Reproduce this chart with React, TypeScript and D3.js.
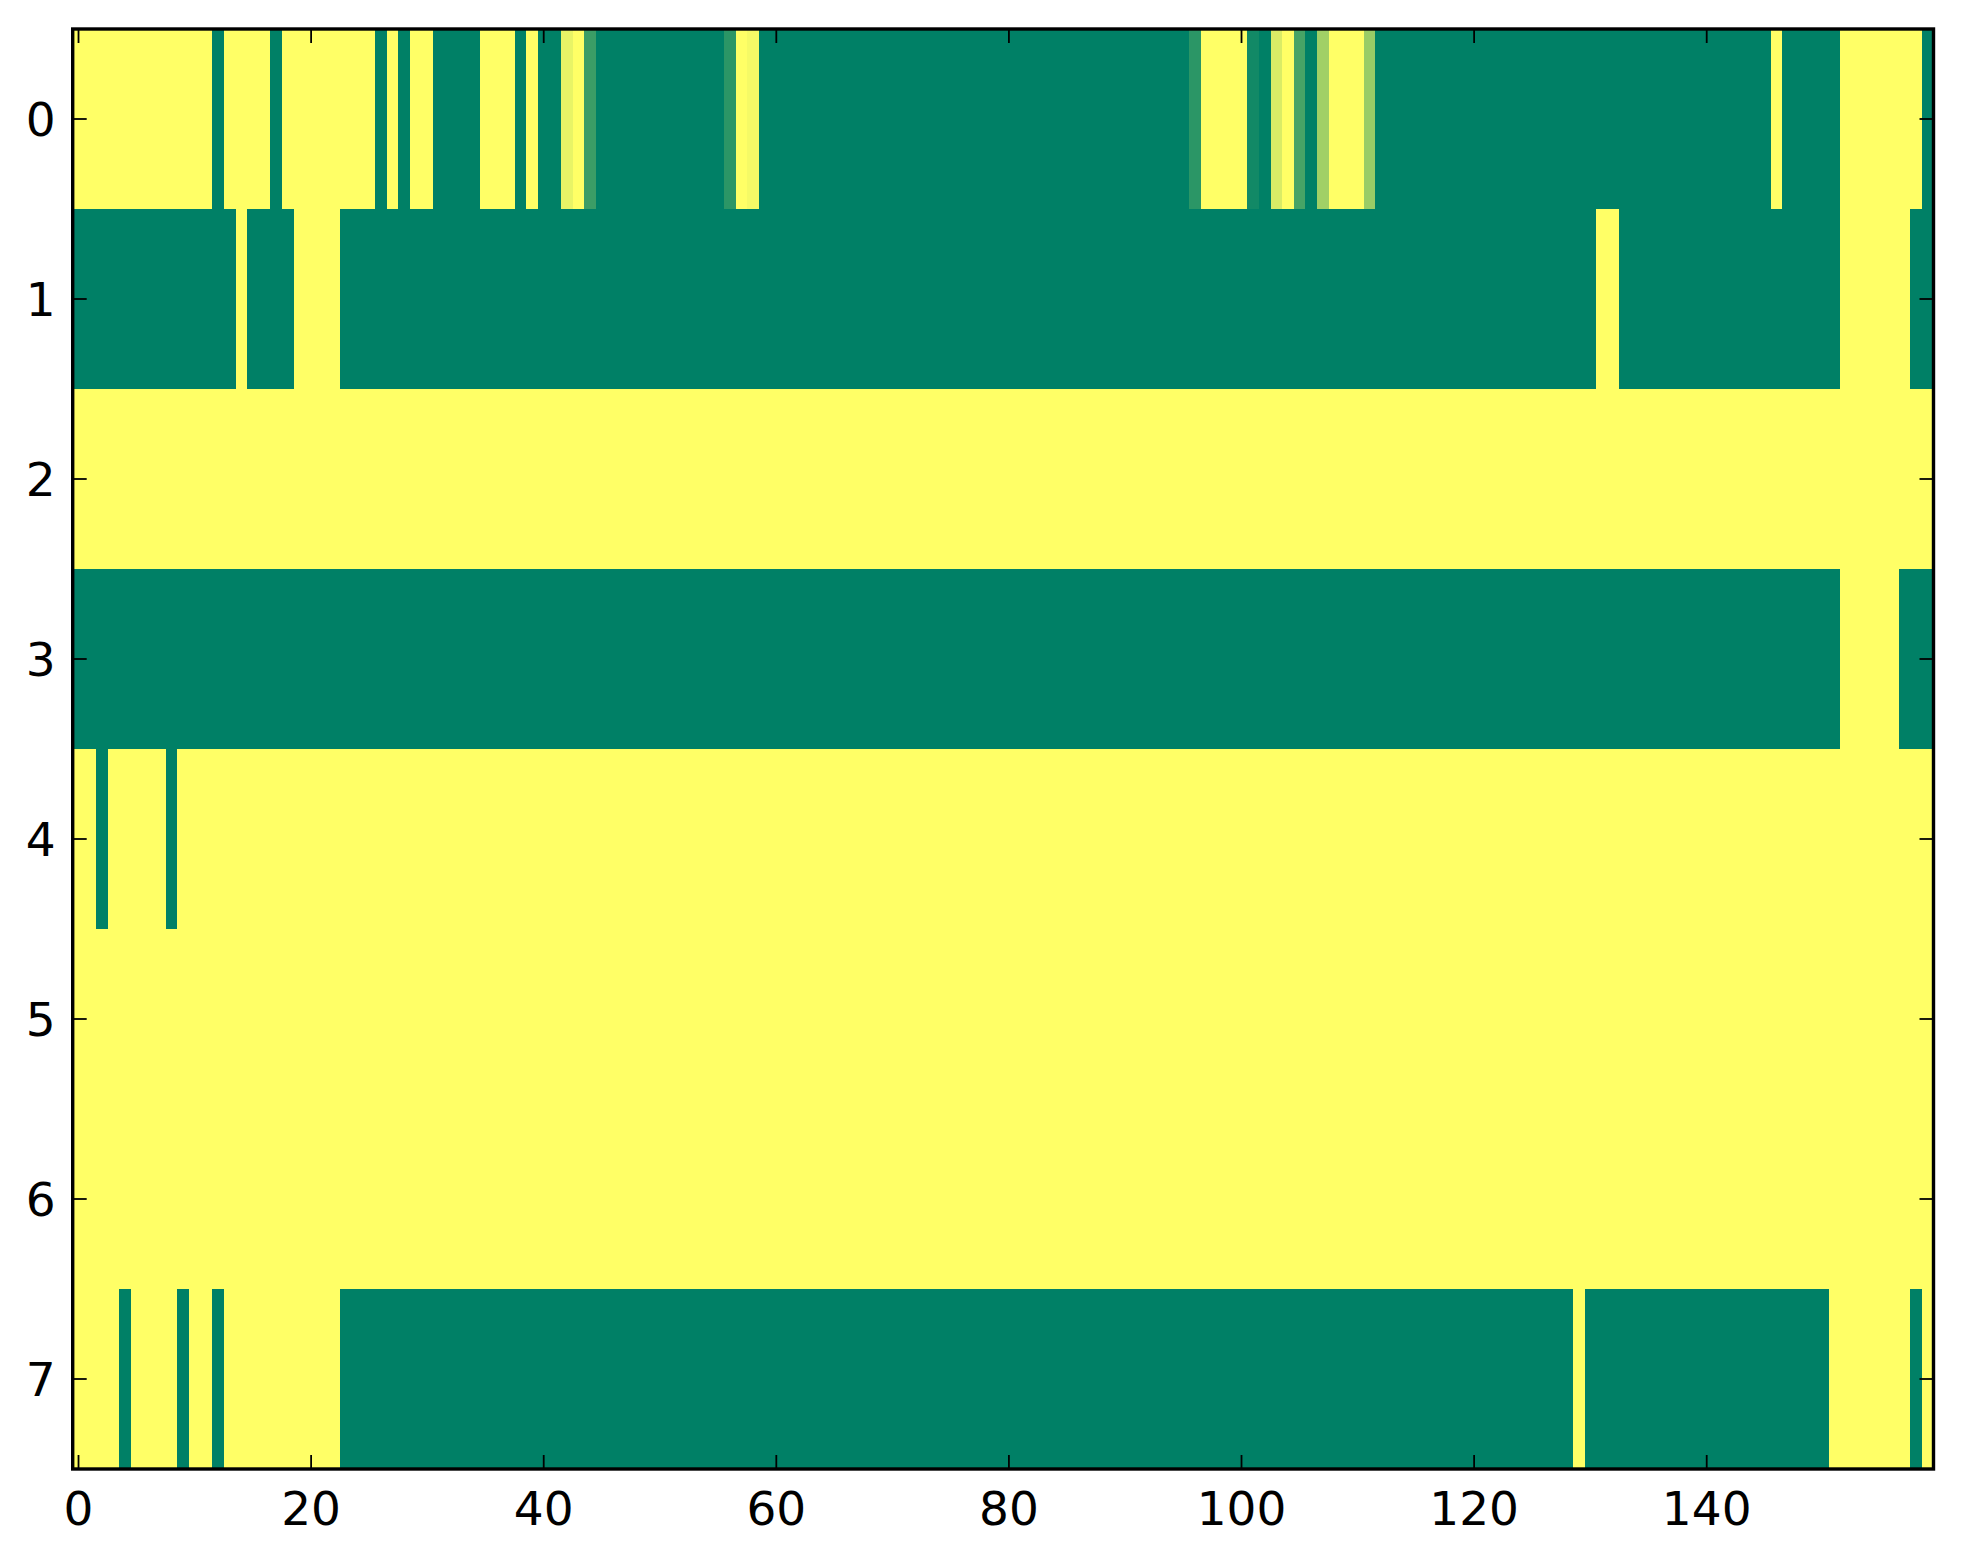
import React, { useEffect } from "react";
import * as d3 from "d3";

// Run-length encoded rows: [value, count] (160 columns each)
const row0Runs: [number, number][] = [
  [1, 12], [0, 1], [1, 4], [0, 1], [1, 8], [0, 1], [1, 1], [0, 1], [1, 2], [0, 4],
  [1, 3], [0, 1], [1, 1], [0, 2], [0.91, 1], [1, 1], [0.23, 1], [0, 11], [0.17, 1], [1, 1],
  [0.96, 1], [0, 37], [0.17, 1], [1, 4], [0.07, 1], [0, 1], [0.85, 1], [1, 1], [0.28, 1], [0, 1],
  [0.63, 1], [1, 3], [0.6, 1], [0, 34], [1, 1], [0, 5], [1, 7], [0, 1],
];
const row1Runs: [number, number][] = [
  [0, 14], [1, 1], [0, 4], [1, 4], [0, 108], [1, 2], [0, 19], [1, 6], [0, 2],
];
const row2Runs: [number, number][] = [[1, 160]];
const row3Runs: [number, number][] = [[0, 152], [1, 5], [0, 3]];
const row4Runs: [number, number][] = [[1, 2], [0, 1], [1, 5], [0, 1], [1, 151]];
const row5Runs: [number, number][] = [[1, 160]];
const row6Runs: [number, number][] = [[1, 160]];
const row7Runs: [number, number][] = [
  [1, 4], [0, 1], [1, 4], [0, 1], [1, 2], [0, 1], [1, 10], [0, 106], [1, 1], [0, 21],
  [1, 7], [0, 1], [1, 1],
];

const rowRuns = [row0Runs, row1Runs, row2Runs, row3Runs, row4Runs, row5Runs, row6Runs, row7Runs];
const xTickValues = [0, 20, 40, 60, 80, 100, 120, 140];
const yTickValues = [0, 1, 2, 3, 4, 5, 6, 7];

const NCOLS = 160;
const NROWS = 8;

function expand(runs: [number, number][]): number[] {
  const out: number[] = [];
  runs.forEach(([v, n]) => {
    for (let i = 0; i < n; i++) out.push(v);
  });
  return out;
}

const matrix = rowRuns.map(expand);

const W = 1963;
const H = 1564;
const left = 72.7;
const right = 1933.5;
const top = 29;
const bottom = 1469;

export default function App() {
  useEffect(() => {
    document.body.style.margin = "0";
  }, []);

  const x = d3.scaleLinear().domain([-0.5, NCOLS - 0.5]).range([left, right]);
  const y = d3.scaleLinear().domain([-0.5, NROWS - 0.5]).range([top, bottom]);
  // matplotlib "summer" colormap
  const color = d3.scaleLinear<string>().domain([0, 1]).range(["#008066", "#ffff66"]).interpolate(d3.interpolateRgb);

  const cells: JSX.Element[] = [];
  matrix.forEach((row, r) => {
    row.forEach((v, c) => {
      cells.push(
        <rect
          key={`${r}-${c}`}
          x={x(c - 0.5)}
          y={y(r - 0.5)}
          width={x(c + 0.5) - x(c - 0.5) + 0.4}
          height={y(r + 0.5) - y(r - 0.5) + 0.4}
          fill={color(v)}
          shapeRendering="crispEdges"
        />
      );
    });
  });

  const tickLen = 14;
  const tickW = 1.8;
  const fontSize = 47;
  const font = "DejaVu Sans, sans-serif";

  return (
    <svg width={W} height={H} style={{ display: "block", background: "#fff" }}>
      <g>{cells}</g>
      {xTickValues.map((t) => (
        <g key={`xt${t}`}>
          <line x1={x(t)} x2={x(t)} y1={bottom} y2={bottom - tickLen} stroke="#000" strokeWidth={tickW} />
          <line x1={x(t)} x2={x(t)} y1={top} y2={top + tickLen} stroke="#000" strokeWidth={tickW} />
          <text x={x(t)} y={bottom + 56} textAnchor="middle" fontFamily={font} fontSize={fontSize} fill="#000">
            {t}
          </text>
        </g>
      ))}
      {yTickValues.map((t) => (
        <g key={`yt${t}`}>
          <line x1={left} x2={left + tickLen} y1={y(t)} y2={y(t)} stroke="#000" strokeWidth={tickW} />
          <line x1={right} x2={right - tickLen} y1={y(t)} y2={y(t)} stroke="#000" strokeWidth={tickW} />
          <text x={left - 17} y={y(t) + 17} textAnchor="end" fontFamily={font} fontSize={fontSize} fill="#000">
            {t}
          </text>
        </g>
      ))}
      <rect x={left} y={top} width={right - left} height={bottom - top} fill="none" stroke="#000" strokeWidth={3.4} />
    </svg>
  );
}
